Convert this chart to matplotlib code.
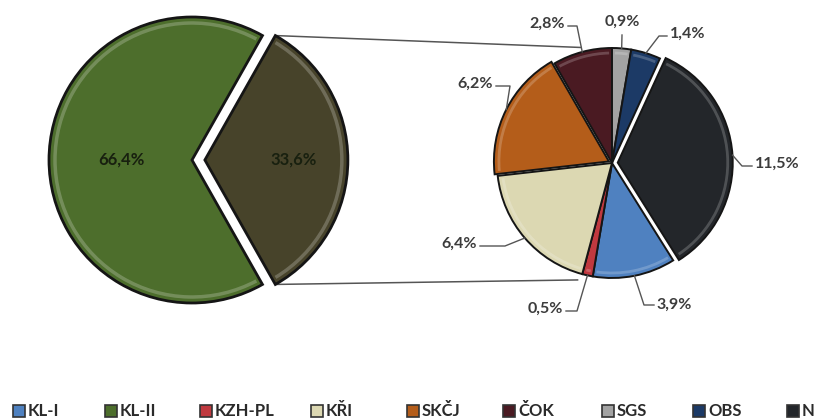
import numpy as np
import matplotlib
matplotlib.use("Agg")
import matplotlib.pyplot as plt
from matplotlib.patches import Rectangle, Arc

plt.rcParams['font.family'] = ['Lato', 'DejaVu Sans']

# ---- data -------------------------------------------------------------
main_labels = ["KL-II", "ostatní"]
main_values = [66.4, 33.6]

detail_labels = ["KL-I", "KZH-PL", "KŘI", "SKČJ", "ČOK", "SGS", "OBS", "N"]
detail_values = [3.9, 0.5, 6.4, 6.2, 2.8, 0.9, 1.4, 11.5]

legend_labels = ["KL-I", "KL-II", "KZH-PL", "KŘI", "SKČJ", "ČOK", "SGS", "OBS", "N"]

# ---- styling ----------------------------------------------------------
main_colors = ["#4d6e2c", "#47432a"]
detail_colors = {
    "KL-I": "#4f81c0",
    "KZH-PL": "#c0393f",
    "KŘI": "#dcd8b2",
    "SKČJ": "#b45d1a",
    "ČOK": "#4a1a22",
    "SGS": "#a3a3a3",
    "OBS": "#1c3a66",
    "N": "#23262a",
    "KL-II": "#4d6e2c",
}
edge = "#151515"
label_color = "#3c3c3c"

W, H = 820, 419


def img(x, y):
    """Convert top-left based canvas position to axes data position."""
    return x, H - y


def fmt(v):
    return f"{v:.1f}".replace(".", ",") + "%"


def bevel(wedges, inset, alpha, lw):
    """Light inner rim along the arc of each wedge for a raised look."""
    for w in wedges:
        d = 2 * (w.r - inset)
        ax.add_patch(Arc(w.center, d, d, theta1=w.theta1 + 1.5,
                         theta2=w.theta2 - 1.5, edgecolor=(1, 1, 1, alpha),
                         lw=lw, zorder=3))


fig = plt.figure(figsize=(W / 100, H / 100), dpi=100)
ax = fig.add_axes([0, 0, 1, 1])

# ---- primary pie ------------------------------------------------------
c1 = img(192, 160)
r1 = 143
start1 = 180 * main_values[1] / sum(main_values)
w1, _ = ax.pie(main_values, colors=main_colors, startangle=start1,
               counterclock=True, radius=r1, center=c1,
               explode=[0, 0.09 * r1],
               wedgeprops=dict(edgecolor=edge, linewidth=2.0),
               frame=True)
bevel(w1, 6, 0.22, 2.5)
for w, v, d in zip(w1, main_values, [0.49, 0.62]):
    ang = np.deg2rad((w.theta1 + w.theta2) / 2)
    cx, cy = w.center
    ax.text(cx + d * w.r * np.cos(ang), cy + d * w.r * np.sin(ang), fmt(v),
            ha="center", va="center", fontsize=12, fontweight="bold",
            color="#18200f", zorder=5)

# ---- secondary pie ----------------------------------------------------
c2 = img(612, 163)
r2 = 115
total2 = sum(detail_values)
start2 = 90 + 360 * sum(detail_values[:5]) / total2
explode2 = [0, 0, 0, 0.03 * r2, 0, 0, 0, 0.05 * r2]
w2, _ = ax.pie(detail_values, colors=[detail_colors[k] for k in detail_labels],
               startangle=start2, counterclock=False, radius=r2, center=c2,
               explode=explode2,
               wedgeprops=dict(edgecolor=edge, linewidth=1.4),
               frame=True)
bevel(w2, 5, 0.2, 2.0)
ax.set_xlim(0, W)
ax.set_ylim(0, H)
ax.set_aspect("equal")
ax.axis("off")

# ---- connector lines between the two pies ----------------------------
olive = w1[1]
ox, oy = olive.center
for th_src, th_dst, rr in [(olive.theta2, 105.0, 1.04), (olive.theta1, 253.6, 1.06)]:
    t = np.deg2rad(th_src)
    p0 = (ox + olive.r * np.cos(t), oy + olive.r * np.sin(t))
    t2 = np.deg2rad(th_dst)
    p1 = (c2[0] + rr * r2 * np.cos(t2), c2[1] + rr * r2 * np.sin(t2))
    ax.plot([p0[0], p1[0]], [p0[1], p1[1]], color="#555555", lw=1.1, zorder=0)

# ---- outer labels with leader lines ----------------------------------
# text position, alignment, elbow point, line end next to the text
label_layout = {
    "KL-I":   ((656, 305), "left",   (644, 305), (654, 305)),
    "KZH-PL": ((563, 309), "right",  (577, 311), (566, 311)),
    "KŘI":    ((477, 244), "right",  (505, 246), (480, 246)),
    "SKČJ":   ((493, 84),  "right",  (510, 86),  (496, 86)),
    "ČOK":    ((565, 24),  "right",  (577, 26),  (568, 26)),
    "SGS":    ((622, 22),  "center", (622, 35),  (622, 35)),
    "OBS":    ((670, 34),  "left",   (659, 36),  (667, 36)),
    "N":      ((755, 164), "left",   (742, 166), (752, 166)),
}
for w, name, v in zip(w2, detail_labels, detail_values):
    ang = np.deg2rad((w.theta1 + w.theta2) / 2)
    cx, cy = w.center
    anchor = (cx + w.r * np.cos(ang), cy + w.r * np.sin(ang))
    (tx, ty), ha, elb, end = label_layout[name]
    ex, ey = img(*elb)
    nx, ny = img(*end)
    ax.plot([anchor[0], ex, nx], [anchor[1], ey, ny], color="#555555",
            lw=1.0, zorder=4)
    ax.text(*img(tx, ty), fmt(v), ha=ha, va="center", fontsize=11.5,
            fontweight="bold", color=label_color, zorder=5)

# ---- legend -----------------------------------------------------------
legend_x = [13, 105, 200, 311, 407, 503, 602, 693, 787]
for x, name in zip(legend_x, legend_labels):
    bx, by = img(x, 417)
    ax.add_patch(Rectangle((bx, by), 12, 12, facecolor=detail_colors[name],
                           edgecolor="#333333", lw=1.2, zorder=5,
                           clip_on=False))
    ax.text(bx + 15, by + 6, name, ha="left", va="center", fontsize=12,
            fontweight="bold", color="#2a2a2a", zorder=5)

fig.savefig("out.png", dpi=100)
